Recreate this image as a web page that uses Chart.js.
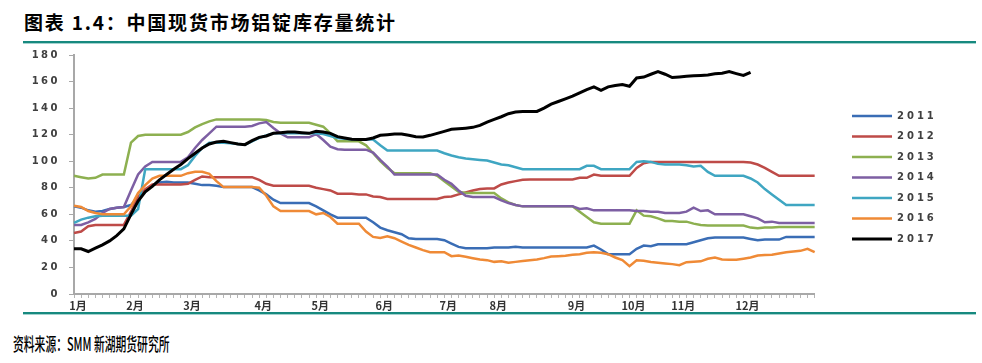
<!DOCTYPE html>
<html>
<head>
<meta charset="utf-8">
<script src="https://cdn.jsdelivr.net/npm/chart.js@4.4.1/dist/chart.umd.min.js"></script>
<style>
  html, body { margin: 0; padding: 0; background: #fff; }
  body { width: 982px; height: 363px; position: relative; overflow: hidden; }
  #title { position: absolute; left: 24px; top: 12px; font: 700 19px/20px "Noto Sans CJK SC"; letter-spacing: 1.8px; color: #000; white-space: nowrap; }
  .rule { position: absolute; left: 23px; width: 953px; height: 2px; background: #17897f; border-bottom: 1px solid #a3d3cf; z-index: 2; }
  #chart { position: absolute; left: 0; top: 40px; }
  #source { position: absolute; left: 13px; top: 334px; font: 500 18px/18px "Noto Sans CJK SC"; color: #000; white-space: nowrap; transform: scaleX(0.6); transform-origin: 0 0; }
</style>
</head>
<body>
<div id="title">图表 1.4：中国现货市场铝锭库存量统计</div>
<div class="rule" style="top:41px"></div>
<canvas id="chart" width="982" height="275"></canvas>
<div class="rule" style="top:312px"></div>
<div id="source">资料来源：SMM 新湖期货研究所</div>

<script>
// x axis: one point per report (twice a week), month name on the first report of each month
const months = ['1月', '2月', '3月', '4月', '5月', '6月', '7月', '8月', '9月', '10月', '11月', '12月'];
const monthStart = [0, 8, 16, 26, 34, 43, 52, 59, 70, 78, 85, 94];
const pointCount = 105;

const years = ['2011', '2012', '2013', '2014', '2015', '2016', '2017'];
const colors = ['#3a6db5', '#be4b48', '#8db050', '#7d5fa3', '#3fa6c2', '#ef8a36', '#000000'];

// inventory, 10k tonnes
const y2011 = [
  66, 65, 63, 62, 62.5, 64, 65, 65.5, 67, 73,
  77, 82, 84, 84.5, 84, 84, 84, 83, 82, 82,
  81.5, 80.5, 80.5, 80.5, 80.5, 80.5, 78, 75, 71, 68.5,
  68.5, 68.5, 68.5, 68.5, 66, 63, 60, 57.5, 57.5, 57.5,
  57.5, 57.5, 54, 50, 48, 46.5, 45, 42, 41.5, 41.5,
  41.5, 41.5, 40.5, 38, 35.5, 34.5, 34.5, 34.5, 34.5, 35,
  35, 35, 35.5, 35, 35, 35, 35, 35, 35, 35,
  35, 35, 35, 36.5, 33.5, 30, 30, 30, 30, 34,
  36.5, 36, 37.5, 37.5, 37.5, 37.5, 37.5, 39, 40.5, 42,
  42.5, 42.5, 42.5, 42.5, 42.5, 41.5, 40.5, 41, 41, 41,
  43, 43, 43, 43, 43
];
const y2012 = [
  46, 47, 51, 52, 52, 52, 52, 52, 62, 73,
  79, 82.5, 82.5, 82.5, 82.5, 82.5, 83, 86, 88.5, 88,
  88, 88, 88, 88, 88, 88, 86, 83, 81.5, 81.5,
  81.5, 81.5, 81.5, 81.5, 80, 79, 78, 75.5, 75.5, 75.5,
  75, 75, 73.5, 73, 71.5, 71.5, 71.5, 71.5, 71.5, 71.5,
  71.5, 71.5, 73, 73.5, 75, 76.5, 78, 79, 79.5, 79.5,
  82.5, 84, 85, 86, 86.3, 86.3, 86.3, 86.3, 86.3, 86.3,
  86.3, 87.5, 87.5, 90, 89, 89, 89, 89, 89, 95,
  98.5, 99.5, 99.5, 99.5, 99.5, 99.5, 99.5, 99.5, 99.5, 99.5,
  99.5, 99.5, 99.5, 99.5, 99.5, 99, 97.5, 95, 92, 89,
  89, 89, 89, 89, 89
];
const y2013 = [
  89, 88, 87, 87.5, 90, 90, 90, 90, 114, 119,
  120, 120, 120, 120, 120, 120, 122, 125.5, 128, 130,
  131.5, 131.5, 131.5, 131.5, 131.5, 131.5, 131.5, 131, 129.5, 129,
  129, 129, 129, 129, 127.5, 126, 121, 115, 115, 115,
  115, 112, 106, 100, 95, 91, 91, 91, 91, 91,
  91, 89, 85, 81, 77, 76, 76, 76, 76, 76,
  72, 69, 67, 66, 66, 66, 66, 66, 66, 66,
  66, 62, 58, 54, 53, 53, 53, 53, 53, 63,
  59, 58.5, 57, 55, 55, 54.5, 54.5, 53, 52, 51.5,
  51.5, 51.5, 51.5, 51.5, 51.5, 50, 49.5, 50, 50, 50.5,
  50.5, 50.5, 50.5, 50.5, 50.5
];
const y2014 = [
  52, 52, 54, 56.5, 61, 64, 65, 65.5, 78, 90,
  96, 99.5, 99.5, 99.5, 99.5, 99.5, 103, 110, 116, 121,
  126, 126, 126, 126, 126, 126.5, 128.5, 129.5, 125, 121,
  118, 118, 118, 118, 120.5, 116, 111, 109, 108.7, 108.7,
  108.7, 108.7, 106.5, 101, 96, 90, 90, 90, 90, 90,
  90, 90, 86, 83, 78, 74, 73, 73, 73, 73,
  70.5, 68.5, 67, 66, 66, 66, 66, 66, 66, 66,
  66, 64, 64.5, 63, 63, 63, 63, 63, 63, 62.5,
  62.5, 62, 62, 61, 61, 61, 62, 65, 62.5, 63,
  60, 60, 60, 60, 60, 58.5, 57, 54, 54.5, 53.5,
  53.5, 53.5, 53.5, 53.5, 53.5
];
const y2015 = [
  53.5, 56, 57.5, 58.5, 59, 59, 59, 59, 59, 64,
  94, 94, 94, 94, 94, 94, 97, 104, 110, 114,
  114, 114, 113.5, 113, 112.5, 115, 117.5, 119.5, 121, 121,
  121, 121, 121, 121, 121, 120.5, 119, 117.5, 117, 116.5,
  116.5, 116.3, 116.3, 112, 108, 108, 108, 108, 108, 108,
  108, 108, 106, 104.3, 103, 102, 101.5, 101, 100.5, 99,
  97.6, 97, 95.5, 94, 94, 94, 94, 94, 94, 94,
  94, 94, 96.5, 96.5, 94, 94, 94, 94, 94, 99.5,
  100, 99.5, 98, 97.5, 97.5, 97.5, 97, 96, 96.5, 92,
  89, 89, 89, 89, 89, 87, 84, 79, 75, 71,
  67, 67, 67, 67, 67
];
const y2016 = [
  66.5, 65.5, 62.5, 61, 60, 60, 60, 60, 66, 76,
  82, 87, 89, 89, 89, 89, 91, 92, 92, 90.5,
  85, 80.5, 80.5, 80.5, 80.5, 80.5, 80, 74, 66, 62.5,
  62.5, 62.5, 62.5, 62.5, 60, 61, 58, 53, 53, 53,
  53, 47, 43, 42.2, 43.5, 42, 39.5, 37, 35, 33,
  31.5, 31.5, 31.5, 28.5, 29, 28, 27, 26, 25.5, 24.2,
  24.6, 23.5, 24.2, 24.8, 25.4, 26, 27, 28.3, 28.5, 28.8,
  29.5, 30, 31, 31.5, 31, 30, 27.5, 25.5, 21, 25.4,
  25, 24.1, 23.5, 23, 22.5, 21.7, 24, 24.3, 24.6, 26.5,
  27.5, 26, 25.8, 25.8, 26.6, 27.5, 29, 29.3, 29.5, 30.5,
  31.5, 32, 32.5, 34, 31.5
];
const y2017 = [
  34, 34, 32, 34.5, 37, 40, 44, 49, 60, 70,
  77, 81, 86, 90, 94, 97.5, 102, 106, 110, 113,
  114.5, 115, 114, 113, 112.5, 115.5, 118, 119, 121, 121.5,
  122, 122, 121.5, 121, 122.5, 122, 121, 118.5, 117.5, 116.5,
  116.3, 116.3, 117.5, 119.5, 120, 120.5, 120.5, 119.5, 118.5, 118.3,
  119.5, 121, 122.5, 124, 124.4, 124.9, 125.5, 127, 129.5, 131.5,
  133.5, 135.8, 137, 137.5, 137.5, 137.5, 140, 143, 145, 147,
  149, 151.5, 154, 156, 153.4, 156, 157, 157.8, 156.5, 162.7,
  163.4, 165.5, 167.5, 165.5, 163, 163.5, 164, 164.3, 164.6, 165,
  165.8, 166.3, 167.5, 166, 164.6, 167
];
const series = [y2011, y2012, y2013, y2014, y2015, y2016, y2017];

const labels = [];
for (let i = 0; i < pointCount; i++) {
  const m = monthStart.indexOf(i);
  labels.push(m >= 0 ? months[m] : '');
}

// canvas has no letter-spacing option in Chart.js, so wrap the draw calls
function spaced(obj, name, gap) {
  if (!obj || obj['_spaced_' + name]) return;
  const orig = obj[name];
  obj[name] = function(...args) {
    this.ctx.save();
    this.ctx.letterSpacing = gap;
    orig.apply(this, args);
    this.ctx.restore();
  };
  obj['_spaced_' + name] = true;
}

// legend sits a little away from the plot, like the original
const legendPlace = {
  id: 'legendPlace',
  afterLayout(chart) {
    const lg = chart.legend;
    const w = lg.right - lg.left;
    lg.left = 841.5;
    lg.right = lg.left + w;
    lg.top = 0;
    spaced(chart.scales.y, 'drawLabels', '2.5px');
    spaced(lg, 'draw', '3px');
  }
};

const datasets = years.map((y, k) => ({
  label: y,
  data: series[k],
  borderColor: colors[k],
  backgroundColor: colors[k],
  borderWidth: k === 6 ? 3 : 2.5,
  pointRadius: 0,
  tension: 0,
  order: years.length - k   // later years on top
}));

new Chart(document.getElementById('chart'), {
  type: 'line',
  data: {labels: labels, datasets: datasets},
  plugins: [legendPlace],
  options: {
    responsive: false,
    animation: false,
    layout: {padding: {top: 9, right: 74, bottom: 0, left: 0}},
    plugins: {
      tooltip: {enabled: false},
      legend: {
        position: 'right',
        labels: {
          boxWidth: 40,
          boxHeight: 0,
          padding: 10.5,
          color: '#404040',
          font: {family: 'DejaVu Sans', size: 10, weight: 'bold'},
          sort: (a, b) => a.datasetIndex - b.datasetIndex
        }
      }
    },
    scales: {
      x: {
        grid: {drawOnChartArea: false, drawTicks: true, tickLength: 4, color: '#b5b5b5'},
        border: {color: '#a8a8a8', width: 2},
        ticks: {
          autoSkip: false, maxRotation: 0, minRotation: 0, padding: 1, labelOffset: 4,
          color: '#333',
          font: {family: 'Noto Sans CJK SC', size: 11, weight: 'bold'}
        },
        afterFit(scale) { scale.height = 21; }
      },
      y: {
        min: 0,
        max: 180,
        grid: {drawOnChartArea: false, drawTicks: true, tickLength: 5, color: '#a8a8a8'},
        border: {color: '#a8a8a8', width: 2},
        ticks: {
          stepSize: 20, padding: 9,
          color: '#404040',
          font: {family: 'DejaVu Sans', size: 10, weight: 'bold'}
        },
        afterFit(scale) { scale.width = 74; }
      }
    }
  }
});
</script>
</body>
</html>
